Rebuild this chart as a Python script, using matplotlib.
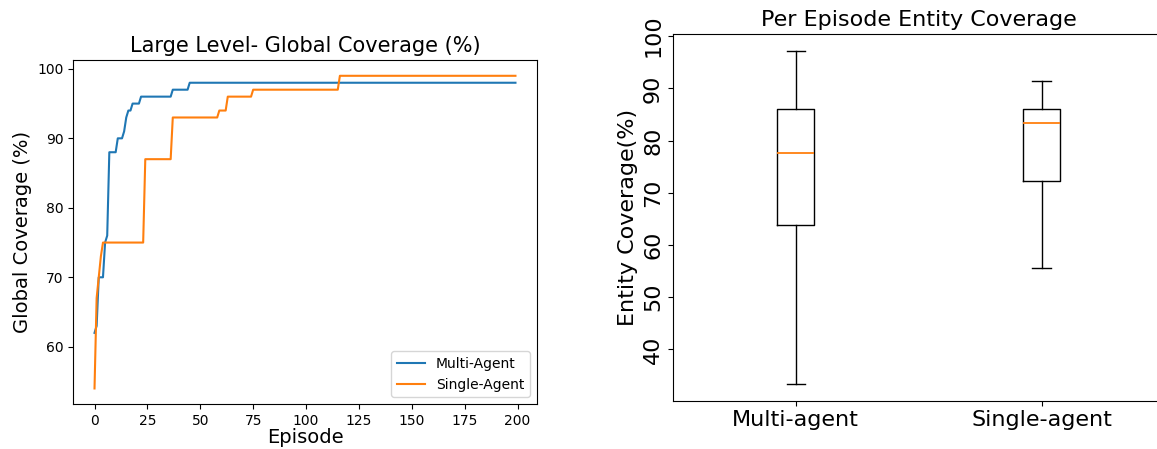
import matplotlib.pyplot as plt
import numpy as np

# global coverage per episode, stored as step changes (episode, value)
multi_steps = [(0, 62), (1, 63), (2, 70), (5, 75), (6, 76), (7, 88), (11, 90),
               (14, 91), (15, 93), (16, 94), (18, 95), (22, 96), (37, 97), (45, 98)]
single_steps = [(0, 54), (1, 67), (2, 70), (3, 73), (4, 75), (24, 87), (37, 93),
                (59, 94), (63, 96), (75, 97), (116, 99)]
n_episodes = 200

# per episode entity coverage box stats
box_labels = ['Multi-agent', 'Single-agent']
box_whislo = [33.4, 55.5]
box_q1 = [63.8, 72.3]
box_med = [77.7, 83.4]
box_q3 = [86.0, 86.0]
box_whishi = [97.2, 91.5]


def expand(steps, n):
    vals = np.zeros(n)
    for ep, v in steps:
        vals[ep:] = v
    return vals


episodes = np.arange(n_episodes)
multi = expand(multi_steps, n_episodes)
single = expand(single_steps, n_episodes)

fig = plt.figure(figsize=(11.57, 4.49), dpi=100)

ax1 = fig.add_axes([0.0635, 0.1, 0.4002, 0.766])
ax1.plot(episodes, multi, label='Multi-Agent')
ax1.plot(episodes, single, label='Single-Agent')
ax1.set_title('Large Level- Global Coverage (%)', fontsize=15)
ax1.set_xlabel('Episode', fontsize=14, labelpad=0)
ax1.set_ylabel('Global Coverage (%)', fontsize=14)
ax1.set_xticks(np.arange(0, 201, 25))
ax1.legend(loc='lower right')

ax2 = fig.add_axes([0.5815, 0.108, 0.425, 0.816])
stats = []
for i in range(len(box_labels)):
    stats.append({'label': box_labels[i], 'whislo': box_whislo[i], 'q1': box_q1[i],
                  'med': box_med[i], 'q3': box_q3[i], 'whishi': box_whishi[i],
                  'fliers': []})
ax2.bxp(stats, medianprops={'color': 'C1', 'linewidth': 1.3})
ax2.set_title('Per Episode Entity Coverage', fontsize=16)
ax2.set_ylabel('Entity Coverage(%)', fontsize=16)
ax2.tick_params(axis='x', labelsize=16)
ax2.tick_params(axis='y', labelsize=16, labelrotation=90)
for lbl in ax2.get_yticklabels():
    lbl.set_va('center')

fig.savefig('out.png', dpi=100)
